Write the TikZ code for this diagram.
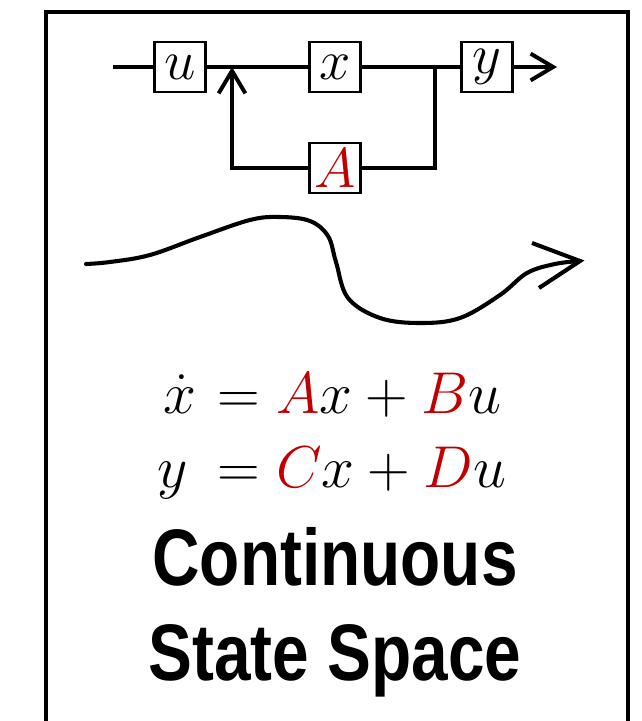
\RequirePackage{fix-cm}
\documentclass[tikz,border=0pt]{standalone}
\usepackage{amsmath}
\usepackage{xcolor}
\usepackage{fontspec}
\newfontfamily\titlefont[FakeStretch=0.82]{Liberation Sans}
\usetikzlibrary{arrows.meta}
\definecolor{stateRed}{RGB}{192,0,0}
\tikzset{
  wire/.style={
    line width=2.8pt
  },
  sysbox/.style={
    draw,
    line width=2.1pt,
    fill=white,
    inner sep=0pt,
    minimum width=1.27cm,
    minimum height=1.25cm,
    font=\fontsize{40}{46}\selectfont
  },
  mathtext/.style={
    inner sep=0pt,
    font=\fontsize{42}{48}\selectfont
  },
  titletext/.style={
    inner sep=0pt,
    font=\fontsize{57}{67}\selectfont\titlefont\bfseries
  },
  barb/.style={
    -{Straight Barb[length=16pt,width=19pt]}
  }
}

\begin{document}
\begin{tikzpicture}[x=0.025cm, y=-0.025cm]
  \useasboundingbox (0,0) rectangle (642,721);
  % frame, open at the bottom
  \draw[line width=2.8pt] (46,730) -- (46,12) -- (628,12) -- (628,730);

  % block diagram
  \coordinate (in) at (113,67);
  \coordinate (join) at (232,67);
  \coordinate (split) at (435,67);
  \coordinate (out) at (557,67);
  \node[sysbox] (u) at (180,67) {$u$};
  \node[sysbox] (x) at (335,67) {$x$};
  \node[sysbox] (y) at (487,67) {$y$};
  \node[sysbox] (A) at (335,168) {$\color{stateRed}A$};
  \draw[wire] (in) -- (u);
  \draw[wire] (u) -- (x);
  \draw[wire] (x) -- (y);
  \draw[wire, barb] (y) -- (out);
  \draw[wire] (split) |- (A);
  \draw[wire, barb] (A) -| (join);

  % wavy arrow
  \coordinate (waveend) at (580,261);
  \draw[line width=2.9pt, line cap=round] plot[smooth, tension=0.6] coordinates {
    (86,264) (110,262) (150,255) (200,237) (250,220) (280,217) (310,221)
    (328,236) (336,262) (348,298) (380,318) (420,323) (460,318) (500,295)
    (527,273) (555,264) (waveend)};
  \draw[line width=2.9pt] (532,243) -- (waveend) -- (539,288);

  % state equations
  \node[mathtext, anchor=base east] (xdot) at (197,413) {$\dot{x}$};
  \node[mathtext, anchor=base west] (xrhs) at (217,413)
    {$= {\color{stateRed}A}x + {\color{stateRed}B}u$};
  \node[mathtext, anchor=base east] (ylhs) at (188,487) {$y$};
  \node[mathtext, anchor=base west] (yrhs) at (217,487)
    {$= {\color{stateRed}C}x + {\color{stateRed}D}u$};

  % title
  \node[titletext, anchor=base] (title1) at (335,585) {Continuous};
  \node[titletext, anchor=base] (title2) at (335,680) {State Space};
\end{tikzpicture}
\end{document}
